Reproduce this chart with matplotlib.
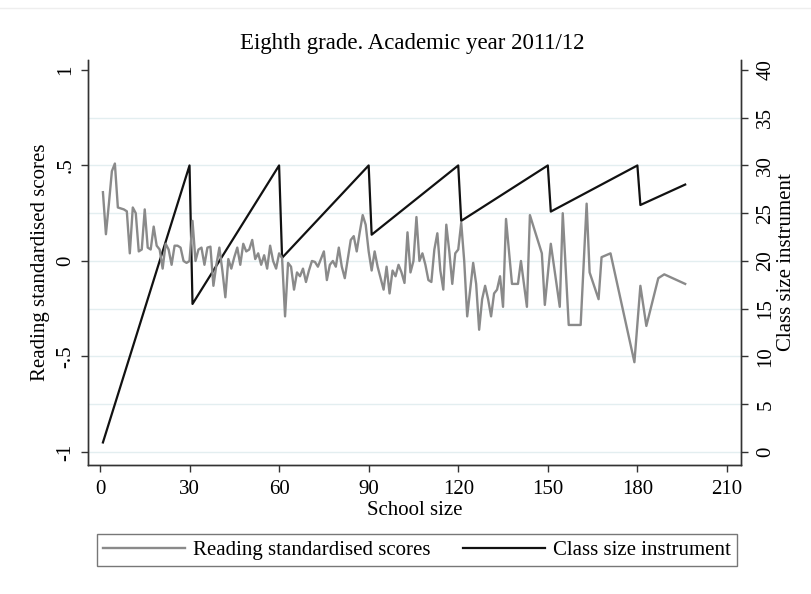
import matplotlib
matplotlib.use("Agg")
import matplotlib.pyplot as plt
from matplotlib.lines import Line2D

plt.rcParams["font.family"] = ["Liberation Serif", "DejaVu Serif"]

title = "Eighth grade. Academic year 2011/12"

# Reading standardised scores by school size
school_size = [
    1, 2, 3, 4, 5, 6, 7, 8, 9, 10, 11, 12, 13, 14, 15, 16, 17, 18, 19, 20,
    21, 22, 23, 24, 25, 26, 27, 28, 29, 30, 31, 32, 33, 34, 35, 36, 37, 38, 39, 40,
    41, 42, 43, 44, 45, 46, 47, 48, 49, 50, 51, 52, 53, 54, 55, 56, 57, 58, 59, 60,
    61, 62, 63, 64, 65, 66, 67, 68, 69, 70, 71, 72, 73, 74, 75, 76, 77, 78, 79, 80,
    81, 82, 83, 84, 85, 86, 87, 88, 89, 90, 91, 92, 93, 94, 95, 96, 97, 98, 99, 100,
    101, 102, 103, 104, 105, 106, 107, 108, 109, 110, 111, 112, 113, 114, 115, 116,
    117, 118, 119, 120, 121, 122, 123, 124, 125, 126, 127, 128, 129, 130, 131, 132,
    133, 134, 135, 136, 137, 138, 140, 141, 143, 144, 148, 149, 151, 154, 155, 157,
    161, 163, 164, 167, 168, 171, 179, 181, 183, 187, 189, 196,
]
reading_scores = [
    0.36, 0.14, 0.30, 0.47, 0.51, 0.28, 0.275, 0.27, 0.26, 0.04, 0.28, 0.25, 0.05, 0.06, 0.27, 0.07, 0.06, 0.18, 0.08, 0.06,
    -0.04, 0.09, 0.06, -0.02, 0.08, 0.08, 0.07, 0.00, -0.01, 0.00, 0.21, 0.00, 0.06, 0.07, -0.02, 0.07, 0.075, -0.13, -0.02, 0.07,
    -0.05, -0.19, 0.01, -0.04, 0.02, 0.07, -0.02, 0.09, 0.05, 0.06, 0.11, 0.01, 0.04, -0.02, 0.03, -0.04, 0.08, 0.00, -0.04, 0.04,
    0.015, -0.29, -0.01, -0.03, -0.15, -0.06, -0.08, -0.04, -0.11, -0.05, 0.00, -0.005, -0.03, 0.01, 0.05, -0.10, -0.02, 0.00, -0.03, 0.07,
    -0.03, -0.09, 0.01, 0.11, 0.13, 0.05, 0.15, 0.24, 0.19, 0.05, -0.05, 0.05, -0.03, -0.09, -0.15, -0.03, -0.17, -0.05, -0.08, -0.02,
    -0.06, -0.115, 0.15, -0.06, 0.00, 0.23, 0.00, 0.04, -0.02, -0.10, -0.11, 0.06, 0.145, -0.05, -0.15, 0.19,
    0.05, -0.12, 0.04, 0.06, 0.20, 0.00, -0.29, -0.15, -0.01, -0.12, -0.36, -0.20, -0.13, -0.20, -0.29, -0.17,
    -0.15, -0.08, -0.24, 0.22, 0.05, -0.12, -0.12, 0.00, -0.24, 0.24, 0.04, -0.23, 0.09, -0.24, 0.25, -0.335,
    -0.335, 0.30, -0.06, -0.20, 0.02, 0.04, -0.53, -0.13, -0.34, -0.09, -0.07, -0.12,
]

# Class size instrument (vertices of the piecewise-linear rule)
instr_size = [1, 30, 31, 60, 61, 90, 91, 120, 121, 150, 151, 180, 181, 196]
instr_class = [1, 30, 15.5, 30, 20.33, 30, 22.75, 30, 24.2, 30, 25.17, 30, 25.86, 28]

x_ticks = [0, 30, 60, 90, 120, 150, 180, 210]
left_ticks = [-1, -0.5, 0, 0.5, 1]
left_labels = ["-1", "-.5", "0", ".5", "1"]
right_ticks = [0, 5, 10, 15, 20, 25, 30, 35, 40]

W, H = 812, 594
fig = plt.figure(figsize=(W / 100, H / 100), dpi=100)
fig.patch.set_facecolor("white")

ax = fig.add_axes([88 / W, 1 - 465 / H, (741 - 88) / W, (465 - 60) / H])
ax2 = ax.twinx()

ylo, yhi = -1.068, 1.052
ax.set_ylim(ylo, yhi)
ax2.set_ylim(20 + 20 * ylo, 20 + 20 * yhi)
ax.set_xlim(-4, 214.7)

grid_color = "#e3eef0"
for v in [0, 5, 10, 15, 20, 25, 30, 35]:
    ax2.axhline(v, color=grid_color, lw=1.0, zorder=0)

gray = "#8a8a8a"
ax.plot(school_size, reading_scores, color=gray, lw=1.7, zorder=3)
ax2.plot(instr_size, instr_class, color="#111111", lw=1.6, zorder=4)

ax.set_zorder(ax2.get_zorder() + 1)
ax.patch.set_visible(False)

fs = 15
ax.set_xticks(x_ticks)
ax.set_xticklabels([str(t) for t in x_ticks], fontsize=fs)
ax.set_yticks(left_ticks)
ax.set_yticklabels(left_labels, fontsize=fs, rotation=90, va="center")
ax2.set_yticks(right_ticks)
ax2.set_yticklabels([str(t) for t in right_ticks], fontsize=fs, rotation=90, va="center")

for a in (ax, ax2):
    a.spines["top"].set_visible(False)
    for s in ("left", "right", "bottom"):
        a.spines[s].set_color("#333333")
        a.spines[s].set_linewidth(1.0)
    a.tick_params(direction="out", length=5, width=1.0, color="#333333", pad=4)
ax.tick_params(axis="x", pad=6)
ax2.tick_params(axis="y", pad=6)

ax.set_xlabel("School size", fontsize=fs, labelpad=1)
ax.set_ylabel("Reading standardised scores", fontsize=fs, labelpad=5)
ax2.set_ylabel("Class size instrument", fontsize=fs, rotation=90, labelpad=1)

fig.text(412 / W, 1 - 44 / H, title, ha="center", va="center", fontsize=16.5)

handles = [
    Line2D([], [], color=gray, lw=1.7),
    Line2D([], [], color="#111111", lw=1.6),
]
leg = fig.legend(
    handles, ["Reading standardised scores", "Class size instrument"],
    loc="center", ncol=2, mode="expand",
    bbox_to_anchor=(97 / W, 1 - 569 / H, (737 - 97) / W, (569 - 531) / H),
    fontsize=fs, handlelength=3.9, handletextpad=0.4, columnspacing=1.5,
    frameon=True, fancybox=False, borderaxespad=0, borderpad=0.3,
)
leg.get_frame().set_edgecolor("#555555")
leg.get_frame().set_linewidth(1.0)

fig.add_artist(Line2D([0, 1], [1 - 8 / H, 1 - 8 / H], color="#eeeeee", lw=1.0))

fig.savefig("out.png", dpi=100)
